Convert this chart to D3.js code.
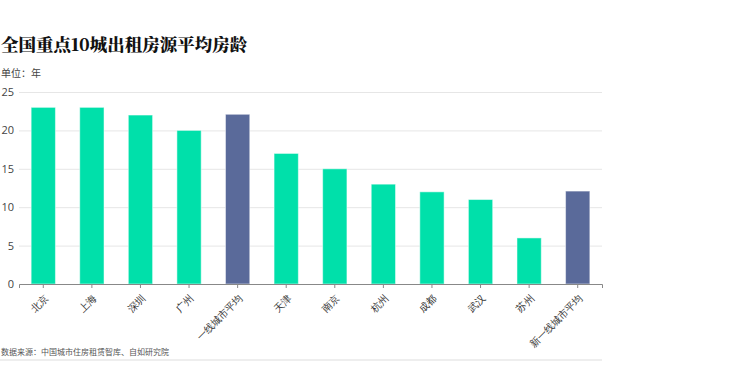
<!DOCTYPE html>
<html>
<head>
<meta charset="utf-8">
<script src="https://cdn.jsdelivr.net/npm/d3@7"></script>
<style>
  body { margin: 0; background: #fff; }
  svg { font-family: "Noto Sans CJK SC", "Noto Sans", sans-serif; }
  .axis path, .axis line { stroke: #888; }
  .axis text { fill: #444; }
  .grid line { stroke: #e6e6e6; }
  .grid path { display: none; }
</style>
</head>
<body>
<svg id="chart" width="740" height="384"></svg>
<script>
var cities = ["北京", "上海", "深圳", "广州", "一线城市平均", "天津", "南京", "杭州", "成都", "武汉", "苏州", "新一线城市平均"];
var ages = [23, 23, 22, 20, 22.1, 17, 15, 13, 12, 11, 6, 12.1];
var averages = ["一线城市平均", "新一线城市平均"];
var yTicks = [0, 5, 10, 15, 20, 25];

function drawBars(){
  var margin = {top: 92, right: 138, bottom: 100, left: 19},
      width = 740 - margin.left - margin.right,
      height = 384 - margin.top - margin.bottom;

  var root = d3.select("#chart");

  // title + unit
  root.append("text")
    .text("全国重点10城出租房源平均房龄")
    .attr("x", 1)
    .attr("y", 51)
    .style("font-size", "17.5px")
    .style("font-weight", "900")
    .style("font-family", "'Noto Serif CJK SC', 'Noto Sans CJK SC', serif")
    .style("fill", "#111");

  root.append("text")
    .text("单位：年")
    .attr("x", 1)
    .attr("y", 77)
    .style("font-size", "10px")
    .style("fill", "#444");

  var svg = root.append("g")
    .attr("transform", "translate(" + margin.left + "," + margin.top + ")");

  var x = d3.scaleBand()
    .domain(cities)
    .range([0, width])
    .paddingInner(0.5)
    .paddingOuter(0.25);

  var y = d3.scaleLinear()
    .domain([0, 25])
    .range([height, 0]);

  // gridlines
  svg.append("g")
    .attr("class", "grid")
    .call(d3.axisLeft(y).tickValues(yTicks).tickSize(-width).tickFormat(""));

  // bars
  svg.append("g")
    .selectAll("rect")
    .data(cities)
    .enter().append("rect")
      .attr("x", function(d){ return x(d); })
      .attr("y", function(d, i){ return y(ages[i]); })
      .attr("width", x.bandwidth())
      .attr("height", function(d, i){ return height - y(ages[i]); })
      .attr("fill", function(d){ return averages.indexOf(d) >= 0 ? "#5a6a9a" : "#00e0aa"; })
      .attr("stroke", "#ffffff")
      .attr("stroke-opacity", 0.5)
      .attr("stroke-width", 1);

  // y axis (labels only)
  var yAxis = svg.append("g")
    .attr("class", "axis y")
    .call(d3.axisLeft(y).tickValues(yTicks).tickSize(0).tickPadding(5));
  yAxis.select(".domain").remove();
  yAxis.selectAll("text").style("font-size", "11px").style("font-family", "'Open Sans', sans-serif");

  // x axis
  var xAxis = svg.append("g")
    .attr("class", "axis x")
    .attr("transform", "translate(0," + height + ")")
    .call(d3.axisBottom(x).tickSizeOuter(0).tickSize(4));
  xAxis.select(".domain").attr("stroke", "#777").attr("stroke-width", 1);
  xAxis.selectAll("text")
    .style("font-size", "10px")
    .style("fill", "#333")
    .style("text-anchor", "end")
    .attr("x", 0)
    .attr("y", 0)
    .attr("dy", "0.35em")
    .attr("transform", "translate(3,12) rotate(-45)");

  // footer
  root.append("text")
    .text("数据来源：中国城市住房租赁智库、自如研究院")
    .attr("x", 1)
    .attr("y", 355)
    .style("font-size", "8px")
    .style("fill", "#555");

  root.append("line")
    .attr("x1", 0).attr("x2", 602)
    .attr("y1", 360).attr("y2", 360)
    .attr("stroke", "#eeeeee")
    .attr("stroke-width", 2);
}

drawBars();
</script>
</body>
</html>
